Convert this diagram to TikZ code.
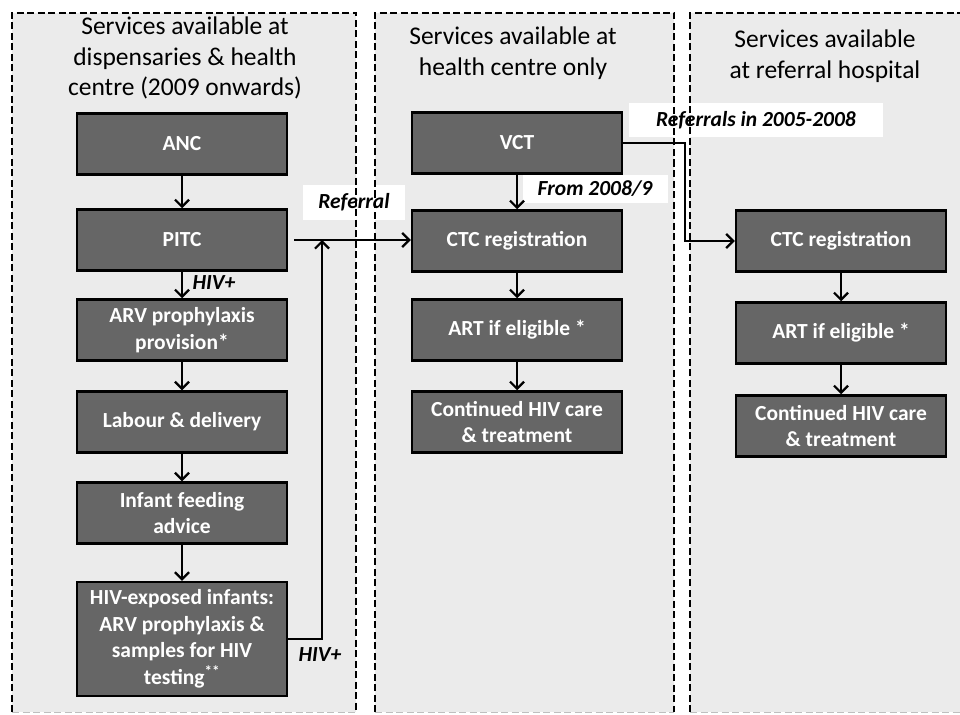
\documentclass[tikz,border=0pt]{standalone}
\usepackage{fontspec}
\setmainfont{Carlito}
\usepackage{tikz}
\usetikzlibrary{arrows.meta,calc}
\usepackage{xcolor}
\definecolor{panelgris}{HTML}{EBEBEB}
\definecolor{cajagris}{HTML}{666666}

\begin{document}
\begin{tikzpicture}[x=1pt,y=-1pt,
        caja/.style={draw=black, line width=2.5pt, fill=cajagris, text=white,
            font=\fontsize{21.5}{26.5}\selectfont\bfseries, align=center,
            minimum width=210pt, minimum height=61pt, inner sep=0pt},
        flecha/.style={line width=2.2pt, -{Straight Barb[length=7pt,width=14pt,line width=2.2pt]}},
        etiqueta/.style={fill=white, font=\fontsize{21.5}{25}\selectfont\bfseries\itshape, inner sep=0pt},
        titulo/.style={font=\fontsize{25.5}{30.5}\selectfont, align=center},
        borde/.style={line width=2.2pt, dash pattern=on 7pt off 3.5pt}]
    \useasboundingbox (0,0) rectangle (960,714);

    % Paneles
    \foreach \a/\b in {12/356, 375/674, 690/968}
        \fill[panelgris] (\a,13) rectangle (\b,712);

    % Titulos
    \node[titulo] (tituloA) at (185,58) {Services available at\\dispensaries \& health\\centre (2009 onwards)};
    \node[titulo] (tituloB) at (513,53) {Services available at\\health centre only};
    \node[titulo] (tituloC) at (825,56) {Services available\\at referral hospital};

    % Etiquetas sobre fondo blanco
    \node[etiqueta, minimum width=102pt, minimum height=35pt] (lreferral) at (354,202) {Referral};
    \node[etiqueta, minimum width=145pt, minimum height=27pt] (lfrom) at (595,189) {From 2008/9};
    \node[etiqueta, minimum width=254pt, minimum height=34pt] (lreferrals) at (756,120) {Referrals in 2005-2008};

    % Bordes de los paneles
    \foreach \a/\b in {12/356, 375/674, 690/968} {
        \draw[borde] (\a,712) -- (\a,13) -- (\b,13) -- (\b,712);
        \draw[borde, gray!50, line width=1pt] (\a,712) -- (\b,712);
    }

    % Dispensarios y centro de salud
    \node[caja] (anc) at (182,144) {ANC};
    \node[caja] (pitc) at (182,240) {PITC};
    \node[caja] (arv) at (182,330) {ARV prophylaxis\\provision*};
    \node[caja] (labour) at (182,422) {Labour \& delivery};
    \node[caja] (feeding) at (182,513) {Infant feeding\\advice};
    \node[caja, minimum height=114pt] (exposed) at (182,639) {HIV-exposed infants:\\ARV prophylaxis \&\\samples for HIV\\testing\textsuperscript{**}};

    % Solo centro de salud
    \node[caja] (vct) at (517,143) {VCT};
    \node[caja] (ctcA) at (517,241) {CTC registration};
    \node[caja] (artA) at (517,330) {ART if eligible *};
    \node[caja] (careA) at (517,422) {Continued HIV care\\\& treatment};

    % Hospital de referencia
    \node[caja] (ctcB) at (841,241) {CTC registration};
    \node[caja] (artB) at (841,333) {ART if eligible *};
    \node[caja] (careB) at (841,426) {Continued HIV care\\\& treatment};

    % Flechas verticales
    \foreach \p/\q in {anc/pitc, pitc/arv, arv/labour, labour/feeding, feeding/exposed,
                       vct/ctcA, ctcA/artA, artA/careA, ctcB/artB, artB/careB}
        \draw[flecha] (\p) -- (\q);

    \node[etiqueta, fill=none] (hivA) at (214,283) {HIV+};
    \node[etiqueta, fill=none] (hivB) at (320,655) {HIV+};

    % Referencias
    \coordinate (cruce) at (322,240);
    \coordinate (codo) at (685,190);
    \draw[flecha, shorten <=6pt] (pitc.east) -- (pitc.east -| ctcA.west);
    \draw[flecha] (exposed.east) -| (cruce);
    \draw[flecha] (vct.east) -| (codo) |- (ctcB.west);
\end{tikzpicture}
\end{document}
